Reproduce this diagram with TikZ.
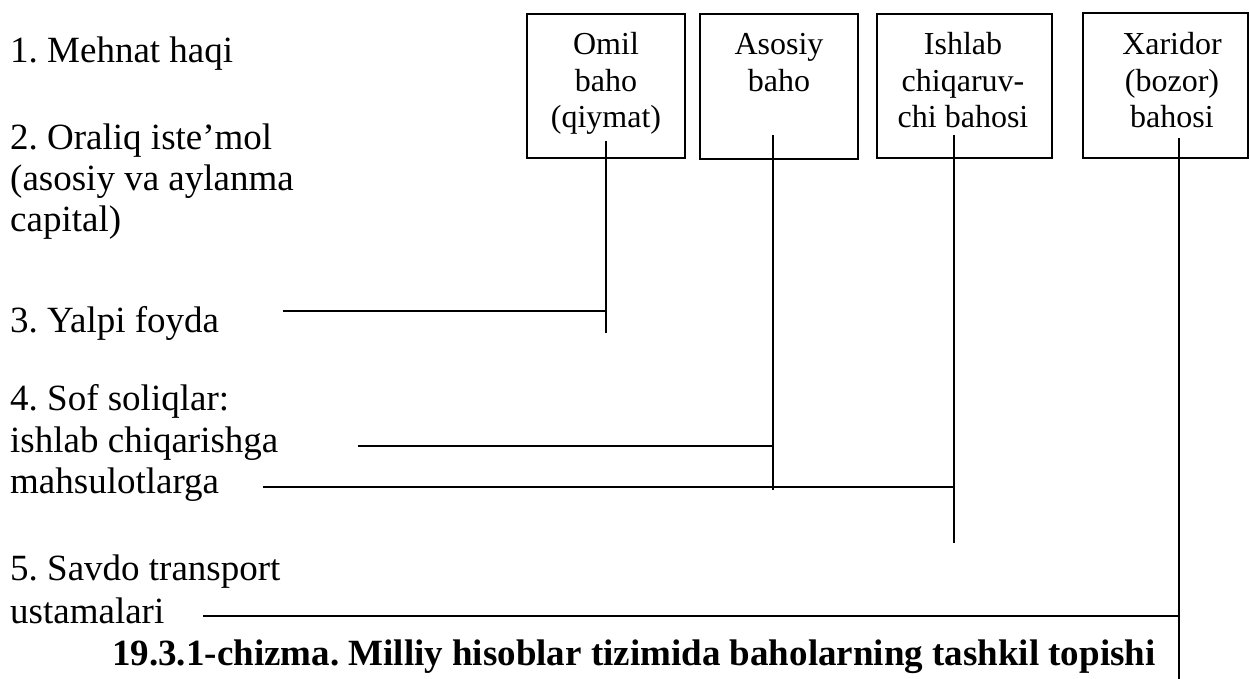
\documentclass[tikz,border=0pt]{standalone}
\usepackage{fontspec}
\setmainfont{Liberation Serif}
\frenchspacing
\begin{document}
\begin{tikzpicture}[x=1pt,y=-1pt,
  ln/.style={line width=2pt},
  boxnode/.style={draw, line width=2pt, inner sep=0pt, minimum height=144pt},
  itm/.style={anchor=base west, inner sep=0pt, font=\fontsize{37}{42}\selectfont},
  btx/.style={anchor=base, inner sep=0pt, font=\fontsize{32}{37}\selectfont},
  captext/.style={anchor=base west, inner sep=0pt, font=\fontsize{37}{42}\selectfont\bfseries}]
\useasboundingbox (0,0) rectangle (1250,679);
% boxes
\node[boxnode, minimum width=158pt] (b1) at (606,86) {};
\node[boxnode, minimum width=158pt, minimum height=145pt] (b2) at (779,86.5) {};
\node[boxnode, minimum width=175pt] (b3) at (964.5,86) {};
\node[boxnode, minimum width=165pt, minimum height=145pt] (b4) at (1165.5,85.5) {};
% box texts
\node[btx] (b1a) at (606,55) {Omil};
\node[btx] (b1b) at (606,92) {baho};
\node[btx] (b1c) at (606,128) {(qiymat)};
\node[btx] (b2a) at (779,55) {Asosiy};
\node[btx] (b2b) at (779,92) {baho};
\node[btx] (b3a) at (963,55) {Ishlab};
\node[btx] (b3b) at (963,92) {chiqaruv-};
\node[btx] (b3c) at (963,128) {chi bahosi};
\node[btx] (b4a) at (1172,55) {Xaridor};
\node[btx] (b4b) at (1172,92) {(bozor)};
\node[btx] (b4c) at (1172,128) {bahosi};
% left texts
\node[itm] (i1) at (10,63) {1. Mehnat haqi};
\node[itm] (i2a) at (10,150) {2. Oraliq iste’mol};
\node[itm] (i2b) at (10,191) {(asosiy va aylanma};
\node[itm] (i2c) at (10,232) {capital)};
\node[itm] (i3) at (10,332) {3. Yalpi foyda};
\node[itm] (i4a) at (10,410) {4. Sof soliqlar:};
\node[itm] (i4b) at (10,452) {ishlab chiqarishga};
\node[itm] (i4c) at (10,493) {mahsulotlarga};
\node[itm] (i5a) at (10,580) {5. Savdo transport};
\node[itm] (i5b) at (10,623) {ustamalari};
\node[captext] (capt) at (112,665) {19.3.1-chizma. Milliy hisoblar tizimida baholarning tashkil topishi};
% connector coordinates
\coordinate (v1t) at (606,141); \coordinate (v1b) at (606,333);
\coordinate (v2t) at (773,135); \coordinate (v2b) at (773,490);
\coordinate (v3t) at (954,135); \coordinate (v3b) at (954,543);
\coordinate (v4t) at (1179,138); \coordinate (v4b) at (1179,679);
\coordinate (h3) at (283,311);
\coordinate (h4a) at (358,446);
\coordinate (h4b) at (263,487);
\coordinate (h5) at (203,616);
% vertical lines
\draw[ln] (v1t) -- (v1b);
\draw[ln] (v2t) -- (v2b);
\draw[ln] (v3t) -- (v3b);
\draw[ln] (v4t) -- (v4b);
% horizontal lines
\draw[ln] (h3) -- (h3 -| v1t);
\draw[ln] (h4a) -- (h4a -| v2t);
\draw[ln] (h4b) -- (h4b -| v3t);
\draw[ln] (h5) -- (h5 -| v4t);
\end{tikzpicture}
\end{document}
